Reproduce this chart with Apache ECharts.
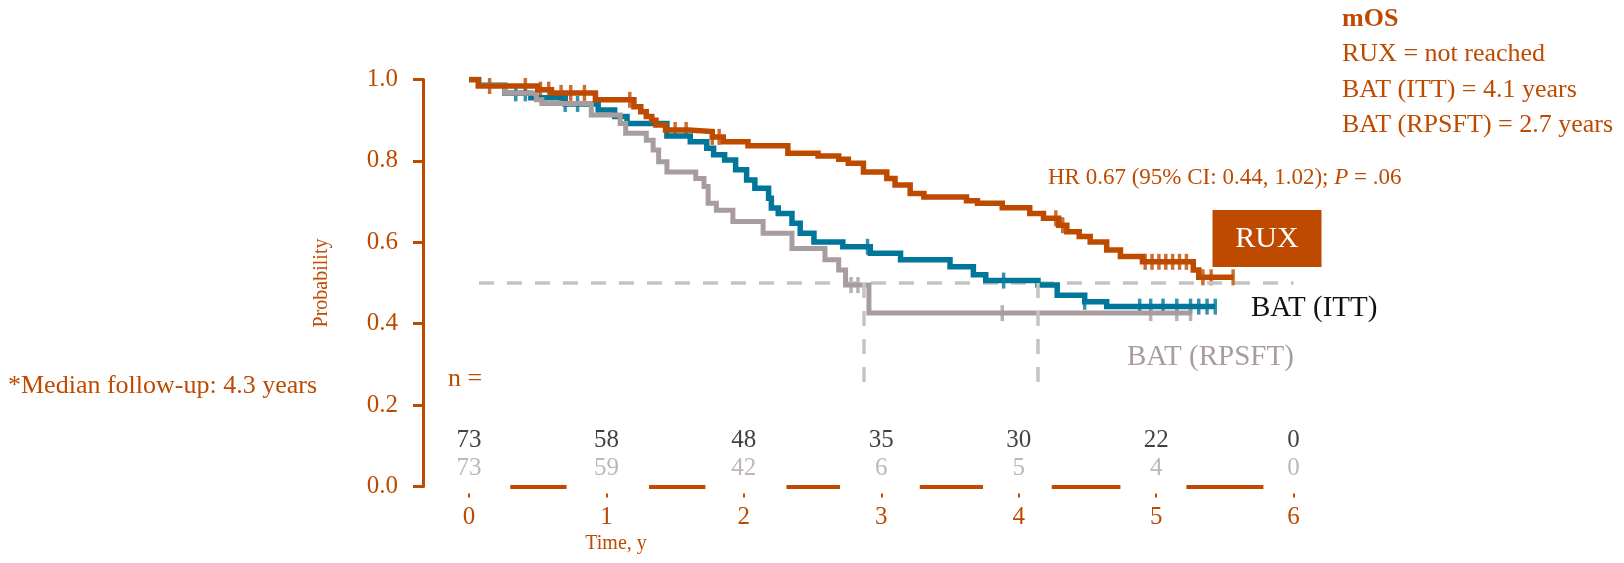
<!DOCTYPE html>
<html>
<head>
<meta charset="utf-8">
<script src="https://cdn.jsdelivr.net/npm/echarts@6/dist/echarts.min.js"></script>
<style>
  html, body { margin: 0; padding: 0; background: #fff; }
  #chart { width: 1624px; height: 563px; }
</style>
</head>
<body>
<div id="chart"></div>
<script>
const ORANGE = '#BE4A00';
const TEAL = '#00779A';
const MAUVE = '#A99C9F';
const DASH = '#C4C4C4';
const FONT = '"Liberation Serif", "DejaVu Serif", serif';

// Kaplan-Meier steps (time in years, survival probability)
const ruxTimes = [0, 0.068, 0.50, 0.60, 0.92, 1.20, 1.25, 1.29, 1.33, 1.36, 1.43, 1.60, 1.77, 1.85, 2.03, 2.32, 2.54, 2.69, 2.76, 2.87, 3.04, 3.10, 3.21, 3.31, 3.62, 3.70, 3.88, 4.08, 4.18, 4.29, 4.35, 4.44, 4.52, 4.64, 4.74, 4.90, 5.27, 5.31, 5.56];
const ruxSurv  = [1.0, 0.984, 0.975, 0.967, 0.950, 0.933, 0.921, 0.909, 0.900, 0.888, 0.876, 0.872, 0.859, 0.847, 0.837, 0.819, 0.812, 0.804, 0.794, 0.773, 0.757, 0.741, 0.720, 0.711, 0.702, 0.696, 0.685, 0.671, 0.659, 0.642, 0.626, 0.614, 0.601, 0.581, 0.565, 0.552, 0.532, 0.514, 0.514];
const ruxCensor = [0.15, 0.41, 0.52, 0.58, 0.67, 0.74, 0.84, 1.17, 1.50, 1.58, 1.77, 1.82, 4.27, 4.32, 4.92, 4.97, 5.02, 5.07, 5.12, 5.17, 5.22, 5.34, 5.40, 5.56];

const ittTimes = [0, 0.07, 0.26, 0.45, 0.70, 0.94, 1.06, 1.15, 1.44, 1.61, 1.73, 1.78, 1.86, 1.94, 2.02, 2.08, 2.18, 2.20, 2.25, 2.35, 2.41, 2.51, 2.72, 2.92, 3.14, 3.50, 3.67, 3.76, 4.14, 4.28, 4.48, 4.64, 5.43];
const ittSurv  = [1.0, 0.986, 0.966, 0.955, 0.940, 0.925, 0.909, 0.892, 0.861, 0.847, 0.831, 0.815, 0.802, 0.778, 0.753, 0.733, 0.708, 0.684, 0.671, 0.647, 0.622, 0.601, 0.589, 0.573, 0.557, 0.540, 0.520, 0.506, 0.495, 0.470, 0.454, 0.442, 0.442];
const ittCensor = [0.34, 0.41, 0.70, 0.79, 2.90, 3.89, 4.48, 4.88, 4.96, 5.05, 5.15, 5.25, 5.31, 5.37, 5.43];

const rpsftTimes = [0, 0.07, 0.26, 0.49, 0.53, 0.89, 1.10, 1.14, 1.29, 1.34, 1.38, 1.44, 1.65, 1.71, 1.74, 1.80, 1.92, 2.14, 2.35, 2.59, 2.69, 2.74, 2.91, 5.25];
const rpsftSurv  = [1.0, 0.986, 0.966, 0.950, 0.941, 0.913, 0.892, 0.868, 0.851, 0.827, 0.798, 0.773, 0.757, 0.737, 0.696, 0.679, 0.651, 0.622, 0.585, 0.557, 0.532, 0.495, 0.426, 0.426];
const rpsftCensor = [2.78, 2.83, 3.88, 4.96, 5.15, 5.25];

// median reference lines
const medianLevel = 0.5;
const medianLineStart = -0.335;   // sits on the offset y axis
const medianLineEnd = 6;
const medianDrops = [2.87, 4.14];
const medianDropBottom = 0.236;

// x-axis line pieces (axis line is broken around the at-risk numbers)
const axisPieces = [[0.30, 0.71], [1.31, 1.72], [2.31, 2.70], [3.28, 3.74], [4.24, 4.74], [5.22, 5.78]];

// numbers at risk
const riskTimes = [0, 1, 2, 3, 4, 5, 6];
const riskItt   = [73, 58, 48, 35, 30, 22, 0];
const riskRpsft = [73, 59, 42, 6, 5, 4, 0];
const riskRowTop = 0.112;
const riskRowBottom = 0.045;

function pairs(ts, ss) { return ts.map((t, i) => [t, ss[i]]); }
function stepAt(ts, ss, t) {
  let v = ss[0];
  for (let i = 0; i < ts.length; i++) if (ts[i] <= t) v = ss[i];
  return v;
}
function censorPts(c, ts, ss) { return c.map(t => [t, stepAt(ts, ss, t)]); }

function kmLine(name, ts, ss, color, width) {
  return {
    name, type: 'line', step: 'end', data: pairs(ts, ss),
    showSymbol: false, symbol: 'none', silent: true,
    lineStyle: { color, width, cap: 'butt', join: 'miter' }
  };
}
function censorMarks(name, c, ts, ss, color) {
  return {
    name, type: 'scatter', data: censorPts(c, ts, ss), silent: true,
    symbol: 'rect', symbolSize: [3.5, 16], itemStyle: { color }
  };
}
function riskRow(vals, y, color) {
  return {
    type: 'scatter', silent: true, symbolSize: 0,
    data: riskTimes.map((t, i) => [t, y, vals[i]]),
    label: {
      show: true, position: 'inside', formatter: p => p.value[2],
      color, fontFamily: FONT, fontSize: 25
    }
  };
}

const chart = echarts.init(document.getElementById('chart'), null, { renderer: 'canvas' });

const option = {
  animation: false,
  backgroundColor: '#fff',
  grid: { left: 469, right: 330.4, top: 79.5, bottom: 76.5, containLabel: false },
  xAxis: {
    type: 'value', min: 0, max: 6, interval: 1, offset: 7,
    axisLine: { show: false, onZero: false },
    axisTick: { show: true, length: 4, lineStyle: { color: ORANGE, width: 2 } },
    axisLabel: { color: ORANGE, fontFamily: FONT, fontSize: 25, margin: 11 },
    splitLine: { show: false }
  },
  yAxis: {
    type: 'value', min: 0, max: 1, interval: 0.2, offset: 46,
    axisLine: { show: true, onZero: false, lineStyle: { color: ORANGE, width: 3 } },
    axisTick: { show: true, length: 10, lineStyle: { color: ORANGE, width: 3 } },
    axisLabel: { color: ORANGE, fontFamily: FONT, fontSize: 25, margin: 25, formatter: v => v.toFixed(1) },
    splitLine: { show: false }
  },
  series: [
    {
      // 0.5 reference line, running back to the y axis
      type: 'line', silent: true, clip: false, symbol: 'none',
      data: [[medianLineStart, medianLevel], [medianLineEnd, medianLevel]],
      lineStyle: { color: DASH, width: 3.5, type: [15, 13] },
      markLine: {
        silent: true, symbol: 'none', label: { show: false },
        lineStyle: { color: DASH, width: 3.5, type: [15, 13] },
        data: medianDrops.map(x => [{ coord: [x, medianLevel] }, { coord: [x, medianDropBottom] }])
      }
    },
    {
      // broken x axis line
      type: 'line', silent: true, symbol: 'none', data: [],
      markLine: {
        silent: true, symbol: 'none', label: { show: false },
        lineStyle: { color: ORANGE, width: 4, type: 'solid' },
        data: axisPieces.map(p => [{ coord: [p[0], 0] }, { coord: [p[1], 0] }])
      }
    },
    kmLine('BAT (ITT)', ittTimes, ittSurv, TEAL, 5.5),
    censorMarks('ITT censor', ittCensor, ittTimes, ittSurv, TEAL),
    kmLine('BAT (RPSFT)', rpsftTimes, rpsftSurv, MAUVE, 5),
    censorMarks('RPSFT censor', rpsftCensor, rpsftTimes, rpsftSurv, MAUVE),
    kmLine('RUX', ruxTimes, ruxSurv, ORANGE, 5.5),
    censorMarks('RUX censor', ruxCensor, ruxTimes, ruxSurv, ORANGE),
    riskRow(riskItt, riskRowTop, '#111'),
    riskRow(riskRpsft, riskRowBottom, '#B0A4A8')
  ],
  graphic: [
    { type: 'text', x: 1342, y: 19, style: { text: 'mOS', fill: ORANGE, fontFamily: FONT, fontSize: 26, fontWeight: 'bold', verticalAlign: 'middle' } },
    { type: 'text', x: 1342, y: 54, style: { text: 'RUX = not reached', fill: ORANGE, fontFamily: FONT, fontSize: 26, verticalAlign: 'middle' } },
    { type: 'text', x: 1342, y: 90, style: { text: 'BAT (ITT) = 4.1 years', fill: ORANGE, fontFamily: FONT, fontSize: 26, verticalAlign: 'middle' } },
    { type: 'text', x: 1342, y: 125, style: { text: 'BAT (RPSFT) = 2.7 years', fill: ORANGE, fontFamily: FONT, fontSize: 26, verticalAlign: 'middle' } },
    { type: 'text', x: 1048, y: 178, style: {
        text: 'HR 0.67 (95% CI: 0.44, 1.02); {i|P} = .06', fill: ORANGE, fontFamily: FONT, fontSize: 23, verticalAlign: 'middle',
        rich: { i: { fontStyle: 'italic', fill: ORANGE, fontFamily: FONT, fontSize: 23 } } } },
    { type: 'rect', shape: { x: 1212.5, y: 210, width: 109, height: 57 }, style: { fill: ORANGE } },
    { type: 'text', x: 1267, y: 239, style: { text: 'RUX', fill: '#fff', fontFamily: FONT, fontSize: 30, align: 'center', verticalAlign: 'middle' } },
    { type: 'text', x: 1251, y: 308, style: { text: 'BAT (ITT)', fill: '#111', fontFamily: FONT, fontSize: 29, verticalAlign: 'middle' } },
    { type: 'text', x: 1127, y: 357, style: { text: 'BAT (RPSFT)', fill: MAUVE, fontFamily: FONT, fontSize: 29, verticalAlign: 'middle' } },
    { type: 'text', x: 8, y: 386, style: { text: '*Median follow-up: 4.3 years', fill: ORANGE, fontFamily: FONT, fontSize: 26, verticalAlign: 'middle' } },
    { type: 'text', x: 448, y: 379, style: { text: 'n =', fill: ORANGE, fontFamily: FONT, fontSize: 26, verticalAlign: 'middle' } },
    { type: 'text', x: 322, y: 283, rotation: Math.PI / 2, style: { text: 'Probability', fill: ORANGE, fontFamily: FONT, fontSize: 20, align: 'center', verticalAlign: 'middle' } },
    { type: 'text', x: 616, y: 544, style: { text: 'Time, y', fill: ORANGE, fontFamily: FONT, fontSize: 20, align: 'center', verticalAlign: 'middle' } }
  ]
};

chart.setOption(option);
</script>
</body>
</html>
